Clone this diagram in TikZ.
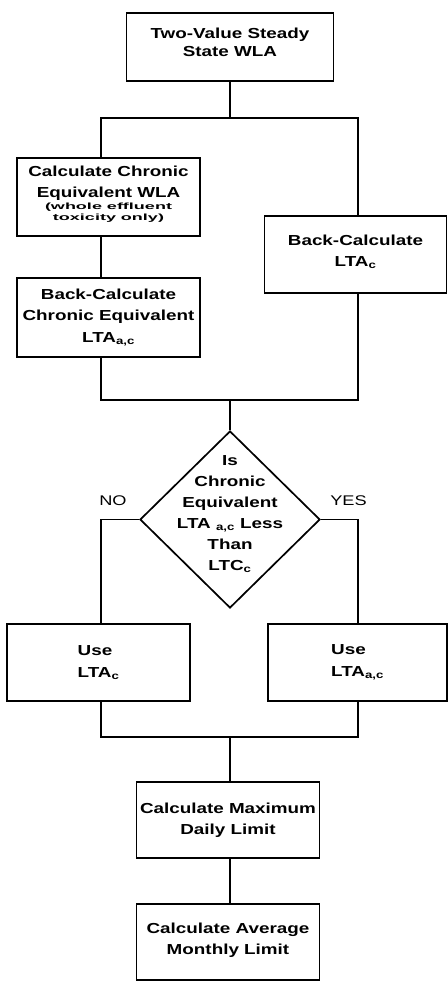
\documentclass[tikz,border=0pt]{standalone}
\usepackage{fontspec}
\setmainfont{Liberation Sans}[FakeStretch=1.3]
\newfontfamily\notefont{Liberation Sans}[FakeStretch=2.0]
\usetikzlibrary{shapes.geometric}
\newcommand\notetxt[1]{{\notefont\bfseries\fontsize{9}{12}\selectfont #1}}
\begin{document}
\begin{tikzpicture}[x=1pt,y=-1pt,
  box/.style={draw, line width=1.7pt, rectangle, align=center, inner sep=0pt,
    font=\bfseries\fontsize{14.5}{21.5}\selectfont},
  decision/.style={draw, diamond, line width=1.7pt, inner sep=0pt},
  conn/.style={line width=1.3pt},
  lbl/.style={font=\fontsize{14}{17}\selectfont, inner sep=0pt}]
\useasboundingbox (0,0) rectangle (447,981);

% boxes
\node[box, minimum width=207pt, minimum height=68pt, text depth=9pt,
      font=\bfseries\fontsize{14.5}{17.5}\selectfont] (top) at (230,47) {Two-Value Steady\\State WLA};
\node[box, minimum width=183pt, minimum height=78pt, text depth=8pt] (calc) at (108.5,197)
  {Calculate Chronic\\Equivalent WLA\\[-10pt]\notetxt{(whole effluent}\\[-10.5pt]\notetxt{toxicity only)}};
\node[box, minimum width=183pt, minimum height=79pt] (back) at (108.5,317.5)
  {Back-Calculate\\Chronic Equivalent\\LTA\textsubscript{a,c}};
\node[box, minimum width=182pt, minimum height=77pt, text depth=8pt] (backr) at (355.5,254.5)
  {Back-Calculate\\LTA\textsubscript{c}};
\node[decision, minimum width=180pt, minimum height=177pt] (dia) at (230,519.5) {};
\node[font=\bfseries\fontsize{14.5}{21}\selectfont, align=center, inner sep=0pt] (qtxt) at (230,514)
  {Is\\Chronic\\Equivalent\\LTA \textsubscript{a,c} Less\\Than\\LTC\textsubscript{c}};
\node[lbl] (no) at (113,501) {NO};
\node[lbl] (yes) at (348.5,501) {YES};
\node[box, align=left, minimum width=183pt, minimum height=77pt] (usec) at (98.5,662.5)
  {Use\\LTA\textsubscript{c}};
\node[box, align=left, minimum width=179pt, minimum height=77pt] (useac) at (357.5,662.5)
  {Use\\LTA\textsubscript{a,c}};
\node[box, minimum width=183pt, minimum height=76pt] (max) at (228,820)
  {Calculate Maximum\\Daily Limit};
\node[box, minimum width=183pt, minimum height=76pt, text depth=7pt] (avg) at (228,942)
  {Calculate Average\\Monthly Limit};

% junction points
\coordinate (jA) at (230,118);
\coordinate (jAL) at (101,118);
\coordinate (jAR) at (358,118);
\coordinate (jB) at (230,400);
\coordinate (jBL) at (101,400);
\coordinate (jBR) at (358,400);
\coordinate (jC) at (230,737);
\coordinate (jCL) at (101,737);
\coordinate (jCR) at (358,737);

% connectors
\draw[conn] (top.south) -- (jA);
\draw[conn] (jAL |- calc.north) -- (jAL) -- (jAR) -- (jAR |- backr.north);
\draw[conn] (calc.south -| jAL) -- (back.north -| jAL);
\draw[conn] (back.south -| jBL) -- (jBL) -- (jBR) -- (backr.south -| jBR);
\draw[conn] (jB) -- (dia.north);
\draw[conn] (dia.west) -- (dia.west -| jBL) -- (usec.north -| jBL);
\draw[conn] (dia.east) -- (dia.east -| jBR) -- (useac.north -| jBR);
\draw[conn] (usec.south -| jCL) -- (jCL) -- (jCR) -- (useac.south -| jCR);
\draw[conn] (jC) -- (jC |- max.north);
\draw[conn] (max.south -| jC) -- (avg.north -| jC);
\end{tikzpicture}
\end{document}
